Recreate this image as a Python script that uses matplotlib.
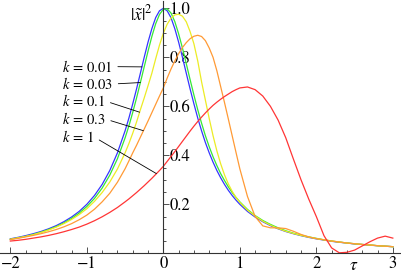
import matplotlib
matplotlib.use("Agg")
import matplotlib.pyplot as plt
import numpy as np

plt.rcParams['font.family'] = ['STIXGeneral', 'DejaVu Serif']
plt.rcParams['mathtext.fontset'] = 'stix'

# time axis (finer steps around the peaks)
tau = [-2.0, -1.9, -1.8, -1.7, -1.6, -1.5, -1.4, -1.3, -1.2, -1.1, -1.0, -0.9, -0.8, -0.7, -0.6, -0.5,
       -0.45, -0.4, -0.35, -0.3, -0.25, -0.2, -0.15, -0.1, -0.05, 0.0, 0.05, 0.1, 0.15, 0.2, 0.25,
       0.3, 0.35, 0.4, 0.45, 0.5, 0.55, 0.6, 0.65, 0.7, 0.75, 0.8, 0.85, 0.9, 0.95, 1.0,
       1.1, 1.2, 1.3, 1.4, 1.5, 1.6, 1.7, 1.8, 1.9, 2.0, 2.1, 2.2, 2.3, 2.4, 2.5, 2.6, 2.7, 2.8, 2.9, 3.0]

k_001 = [.059, .065, .072, .080, .089, .100, .113, .129, .148, .171, .200, .236, .281, .338, .410, .500,
         .552, .610, .671, .735, .800, .862, .917, .962, .990, 1.000, .990, .962, .917, .862, .800,
         .735, .671, .610, .552, .500, .452, .410, .372, .338, .308, .281, .257, .236, .217, .200,
         .171, .148, .129, .113, .100, .089, .080, .072, .065, .059, .054, .049, .045, .042, .038, .036, .033, .031, .029, .027]
k_003 = [.057, .063, .069, .077, .086, .097, .109, .124, .142, .164, .191, .224, .266, .319, .386, .471,
         .520, .575, .634, .697, .761, .825, .885, .937, .975, .996, .998, .981, .946, .896, .838,
         .774, .709, .646, .586, .531, .480, .435, .394, .358, .325, .297, .271, .248, .228, .210,
         .179, .154, .134, .118, .104, .092, .082, .074, .067, .061, .055, .050, .046, .042, .039, .036, .034, .031, .029, .027]
k_01 = [.057, .063, .069, .076, .085, .095, .107, .121, .138, .158, .182, .212, .248, .291, .344, .410,
        .448, .490, .536, .586, .634, .684, .735, .794, .850, .898, .935, .960, .973, .976, .968,
        .945, .905, .855, .785, .700, .625, .550, .480, .418, .365, .320, .283, .253, .228, .208,
        .176, .152, .131, .115, .101, .090, .081, .073, .066, .060, .055, .050, .046, .042, .039, .036, .034, .031, .029, .027]
k_03 = [.056, .061, .067, .073, .080, .088, .097, .108, .121, .137, .156, .180, .210, .245, .290, .345,
        .377, .410, .441, .474, .507, .540, .574, .608, .642, .675, .715, .752, .785, .815, .840,
        .860, .876, .886, .890, .885, .868, .838, .800, .745, .680, .615, .548, .480, .412, .345,
        .232, .150, .112, .104, .104, .101, .090, .077, .067, .060, .055, .050, .046, .042, .039, .036, .034, .031, .029, .027]
k_1 = [.050, .053, .057, .062, .067, .073, .080, .088, .097, .107, .119, .133, .149, .167, .187, .210,
       .222, .235, .248, .262, .276, .291, .306, .322, .338, .355, .375, .395, .415, .436, .457,
       .478, .499, .519, .538, .556, .573, .589, .604, .617, .629, .640, .650, .660, .668, .675,
       .679, .668, .642, .600, .544, .472, .385, .300, .222, .150, .072, .022, .002, .004, .013, .030, .047, .062, .070, .062]

curves = [k_001, k_003, k_01, k_03, k_1]
labels = [r'$k\,=\,0.01$', r'$k\,=\,0.03$', r'$k\,=\,0.1$', r'$k\,=\,0.3$', r'$k\,=\,1$']
colors = ['#3535ff', '#35e835', '#ecec25', '#ff9a35', '#ff3535']
# where each leader line touches its curve, and where the label sits
anchor_tau = [-0.28, -0.30, -0.31, -0.26, -0.09]
label_y = [0.762, 0.691, 0.622, 0.548, 0.475]

fig = plt.figure(figsize=(4.02, 2.75), dpi=100)
ax = fig.add_axes([0, 0, 1, 1])

for vals, c in zip(curves, colors):
    ax.plot(tau, vals, color=c, lw=0.9)

for vals, lab, at, ly in zip(curves, labels, anchor_tau, label_y):
    ay = np.interp(at, tau, vals)
    ax.annotate(lab, xy=(at, ay), xytext=(-1.325, ly), ha='left', va='center', fontsize=10.5,
                arrowprops=dict(arrowstyle='-', lw=0.6, color='black',
                                relpos=(1, 0.5), shrinkA=2, shrinkB=0))

ax.set_xlim(-2.135, 3.12)
ax.set_ylim(-0.0886, 1.034)

for s in ['top', 'right']:
    ax.spines[s].set_visible(False)
ax.spines['left'].set_position(('data', 0))
ax.spines['bottom'].set_position(('data', 0))
ax.spines['left'].set_bounds(0, 1.03)
ax.spines['bottom'].set_bounds(-2.135, 3.11)
for s in ['left', 'bottom']:
    ax.spines[s].set_color('#333333')
    ax.spines[s].set_linewidth(0.8)

ax.set_xticks([-2, -1, 0, 1, 2, 3])
ax.set_xticklabels(['\u22122', '\u22121', '0', '1', '2', '3'])
ax.set_xticks(np.arange(-2, 3.01, 0.2), minor=True)
ax.set_yticks([0.2, 0.4, 0.6, 0.8, 1.0])
ax.set_yticklabels(['0.2', '0.4', '0.6', '0.8', '1.0'])
ax.set_yticks(np.arange(0.05, 1.01, 0.05), minor=True)

ax.tick_params(axis='both', which='both', direction='in', color='#333333', width=0.6, labelsize=12)
ax.tick_params(axis='both', which='major', length=4.5)
ax.tick_params(axis='both', which='minor', length=2.5)
ax.tick_params(axis='x', pad=2)
ax.tick_params(axis='y', pad=-4.5)
for t in ax.get_yticklabels():
    t.set_horizontalalignment('left')

ax.text(-0.14, 0.975, r'$|\tilde{x}|^2$', ha='right', va='center', fontsize=12.5)
ax.text(2.49, -0.052, r'$\tau$', ha='center', va='center', fontsize=12.5)

fig.savefig('out.png', dpi=100)
